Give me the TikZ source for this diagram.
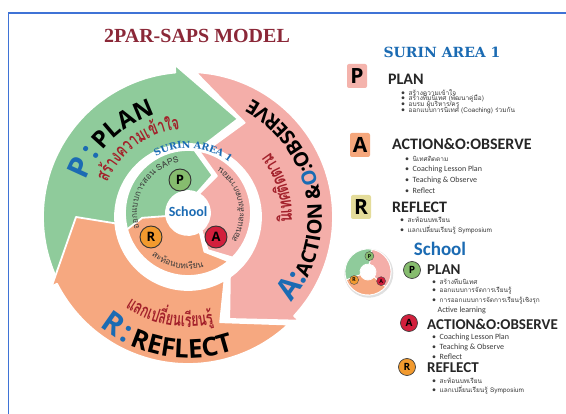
\documentclass[tikz,border=0pt]{standalone}
\usepackage{fontspec}
\setmainfont{Carlito}
\newfontfamily\thaif[Script=Thai]{Loma}
\newfontfamily\osans{Open Sans}
\newfontfamily\slabf{DejaVu Serif}
\newfontfamily\titlef{Liberation Serif}
\definecolor{grn}{HTML}{8FCB9B}
\definecolor{pnk}{HTML}{F4AEA9}
\definecolor{orn}{HTML}{F6A880}
\definecolor{blu}{HTML}{1B6BB3}
\definecolor{dred}{HTML}{A3212B}
\definecolor{ttl}{HTML}{8B2838}
\definecolor{frm}{HTML}{3F73D6}
\definecolor{pcirc}{HTML}{86BC6E}
\definecolor{acirc}{HTML}{D21F3C}
\definecolor{rcirc}{HTML}{F29A2E}
\definecolor{pbox}{HTML}{F4B3AC}
\definecolor{abox}{HTML}{F5A77C}
\definecolor{ybox}{HTML}{E4DC9A}
\definecolor{txt}{HTML}{3A3A3A}
\newcommand\RgBig{\osans\bfseries\fontsize{30}{30}\selectfont\color{blu}}
\newcommand\RgMid{\osans\bfseries\fontsize{20}{20}\selectfont\color{black}}
\newcommand\RgMidB{\osans\bfseries\fontsize{20}{20}\selectfont\color{blu}}
\newcommand\RgPlan{\osans\bfseries\fontsize{24}{24}\selectfont\color{black}}
\newcommand\RgRef{\osans\bfseries\fontsize{26}{26}\selectfont\color{black}}
\newcommand\SurinIn{\slabf\bfseries\fontsize{9.5}{9.5}\selectfont\color{blu}}
\newcommand\ThW{\thaif\bfseries\fontsize{19}{19}\selectfont\color{dred}}
\newcommand\ThS{\thaif\fontsize{8.5}{8.5}\selectfont\color{txt}}
\newcommand\thsz{\thaif\fontsize{6.5}{6.5}\selectfont}
\newcommand\bitem[1]{\textbullet\hspace{3.5pt}#1}
\newdimen\arcw
\newcount\arcn
\newbox\arcbox
% measure: #1 name, #2 font, #3 fallback width, #4 list
\newcommand\ArcPrep[4]{%
  \global\arcw=0pt
  \gdef\arcpairs{}%
  \foreach \ch in {#4}{%
    \setbox\arcbox=\hbox{#2\ch}%
    \ifdim\wd\arcbox<0.1pt \setbox\arcbox=\hbox{\kern#3}\fi
    \global\advance\arcw by \wd\arcbox
    \xdef\arcpairs{\unexpanded\expandafter{\arcpairs}\ifx\arcpairs\empty\else,\fi{\unexpanded\expandafter{\ch}}/\the\wd\arcbox}%
  }%
  \expandafter\xdef\csname arcT#1\endcsname{\the\arcw}%
  \expandafter\global\expandafter\let\csname arcL#1\endcsname\arcpairs
}
% draw: #1 name, #2 radius, #3 centre angle, #4 direction (1 ccw, -1 cw), #5 font, #6 x-scale
\newcommand\ArcDraw[6]{%
  \expandafter\let\expandafter\arclist\csname arcL#1\endcsname
  \edef\arctot{\csname arcT#1\endcsname}%
  \gdef\arccum{0pt}%
  \foreach \ch/\w in \arclist {%
    \pgfmathsetmacro\arcang{#3-(#4)*(#6)*\arctot/(#2)*28.64789+(#4)*(#6)*(\arccum+0.5*\w)/(#2)*57.29578}%
    \pgfmathsetmacro\arcrot{\arcang+(#4)*90}%
    \global\advance\arcn by 1
    \node[anchor=base, inner sep=0pt, font=#5, rotate=\arcrot, xscale=#6] (ac\the\arcn) at (\arcang:#2) {\ch};%
    \pgfmathsetlengthmacro\arcnew{\arccum+\w}%
    \global\let\arccum\arcnew
  }%
}
\begin{document}
\ArcPrep{plan}{\RgPlan}{16pt}{{\RgBig P},{\RgBig :\hspace{0.25em}},P,L,A,N}
\ArcPrep{act}{\RgMid}{13pt}{{\RgBig A},{\RgBig :},A,C,T,I,O,N,{\hspace{0.25em}\&},{\RgMidB O},:,O,B,S,E,R,V,E}
\ArcPrep{ref}{\RgRef}{17pt}{{\RgBig R},{\RgBig :\hspace{0.25em}},R,E,F,L,E,C,T}
\ArcPrep{tha}{\ThW}{11pt}{ส,ร้,า,ง,ค,ว,า,ม,เ,ข้,า,ใ,จ}
\ArcPrep{thb}{\ThW}{11pt}{นิ,เ,ท,ศ,ติ,ด,ต,า,ม}
\ArcPrep{thc}{\ThW}{11pt}{แ,ล,ก,เ,ป,ลี่,ย,น,เ,รี,ย,น,รู้}
\ArcPrep{sur}{\SurinIn}{7pt}{S,U,R,I,N,{\hspace{0.3em}A},R,E,A,{\hspace{0.3em}1}}
\ArcPrep{ia}{\ThS}{5pt}{อ,อ,ก,แ,บ,บ,ก,า,ร,ส,อ,น,{\hspace{0.3em}S},A,P,S}
\ArcPrep{ib}{\ThS}{5pt}{ส,อ,น,แ,ล,ะ,สั,ง,เ,ก,ต,ก,า,ร,ส,อ,น}
\ArcPrep{ic}{\ThS}{5pt}{ส,ะ,ท้,อ,น,บ,ท,เ,รี,ย,น}
\begin{tikzpicture}[x=1pt,y=1pt,
  seg/.style={draw=white, line width=1.8pt, line join=round},
  letc/.style={circle, draw=black!80, line width=0.9pt, minimum size=22pt, inner sep=0, font=\osans\bfseries\fontsize{13}{13}\selectfont},
  letcs/.style={circle, draw=black!75, line width=0.7pt, minimum size=17pt, inner sep=0, font=\osans\bfseries\fontsize{10}{10}\selectfont},
  minic/.style={circle, draw=black!70, line width=0.4pt, minimum size=9pt, inner sep=0, font=\bfseries\fontsize{6}{6}\selectfont},
  bul/.style={anchor=west, inner sep=0, font=\fontsize{8}{8}\selectfont, text=txt},
  hd/.style={anchor=west, inner sep=0, font=\bfseries\fontsize{16}{16}\selectfont, text=black!85},
  hds/.style={anchor=west, inner sep=0, font=\bfseries\fontsize{15}{15}\selectfont, text=black!85},
  lbox/.style={rounded corners=2pt, minimum width=20pt, minimum height=24pt, inner sep=0, font=\osans\bfseries\fontsize{21}{21}\selectfont}]
\useasboundingbox (0,0) rectangle (566,-414);
\fill[white] (0,0) rectangle (566,-414);
\draw[frm, line width=1.6pt] (8.5,-414) -- (8.5,-13) -- (566,-13);

\node[font=\titlef\bfseries\fontsize{20}{20}\selectfont, text=ttl] (title) at (197,-36) {2PAR-SAPS MODEL};

% ---------- outer ring ----------
\begin{scope}[shift={(188,-217)}]
\filldraw[fill=pnk, seg] (87:145) arc[start angle=87, end angle=-43, radius=145] -- (-43:152) -- (-68:110) -- (-55:73) arc[start angle=-55, end angle=72, radius=73] -- (59:110) -- cycle;
\filldraw[fill=grn, seg] (235:145) arc[start angle=235, end angle=95, radius=145] -- (95:153) -- (63:110) -- (78:73) arc[start angle=78, end angle=235, radius=73] -- cycle;
\filldraw[fill=orn, seg] (-47:147) arc[start angle=-47, end angle=-153, radius=147] -- (-153:153) -- (180:112) -- (-175:73) arc[start angle=-175, end angle=-60, radius=73] -- (-73:110) -- cycle;

\ArcDraw{plan}{108}{134}{-1}{\RgPlan}{1}
\ArcDraw{act}{134}{11}{1}{\RgMid}{1}
\ArcDraw{ref}{141}{260}{1}{\RgRef}{1}
\ArcDraw{tha}{88}{126}{-1}{\ThW}{0.68}
\ArcDraw{thb}{104}{17.5}{1}{\ThW}{0.72}
\ArcDraw{thc}{110}{259.5}{1}{\ThW}{0.66}
\end{scope}

% ---------- inner ring ----------
\begin{scope}[shift={(188,-213)}]
\filldraw[fill=pnk, seg] (80:63) arc[start angle=80, end angle=-45, radius=63] -- (-62:42) -- (-52:22) arc[start angle=-52, end angle=60, radius=22] -- (52:47) -- cycle;
\filldraw[fill=grn, seg] (225:63) arc[start angle=225, end angle=84, radius=63] -- (57:45) -- (66:22) arc[start angle=66, end angle=225, radius=22] -- cycle;
\filldraw[fill=orn, seg] (-50:63) arc[start angle=-50, end angle=-165, radius=63] -- (-174:46) -- (-172:22) arc[start angle=-172, end angle=-58, radius=22] -- (-67:42) -- cycle;

\ArcDraw{sur}{65}{85}{-1}{\SurinIn}{1}
\ArcDraw{ia}{51}{149}{-1}{\ThS}{1}
\ArcDraw{ib}{56}{11.5}{1}{\ThS}{1}
\ArcDraw{ic}{56}{258}{1}{\ThS}{1}

\node[font=\bfseries\fontsize{14}{14}\selectfont, text=blu] (school) at (0,1) {School};
\end{scope}

\node[letc, fill=pcirc] (cp) at (180,-180) {P};
\node[letc, fill=acirc] (ca) at (216,-237) {A};
\node[letc, fill=rcirc] (cr) at (151,-237) {R};

% ---------- legend: SURIN AREA 1 ----------
\node[font=\slabf\bfseries\fontsize{14}{14}\selectfont, text=blu] (sa) at (442,-52) {SURIN AREA 1};
\node[lbox, fill=pbox] (bp) at (357,-76) {P};
\node[hd] (hp) at (388,-79) {PLAN};
\node[bul] (p1) at (401,-93) {\bitem{\thsz สร้างความเข้าใจ}};
\node[bul] (p2) at (401,-99) {\bitem{\thsz สร้างทีมนิเทศ (พัฒนาคู่มือ)}};
\node[bul] (p3) at (401,-105) {\bitem{\thsz อบรม ผู้บริหาร/ครู}};
\node[bul] (p4) at (401,-111) {\bitem{\thsz ออกแบบการนิเทศ (Coaching) ร่วมกัน}};

\node[lbox, fill=abox] (ba) at (360,-145) {A};
\node[hd] (ha) at (392,-144) {ACTION\&O:OBSERVE};
\node[bul] (a1) at (405,-159) {\bitem{\thsz นิเทศติดตาม}};
\node[bul] (a2) at (405,-169.5) {\bitem{Coaching Lesson Plan}};
\node[bul] (a3) at (405,-180) {\bitem{Teaching \& Observe}};
\node[bul] (a4) at (405,-190.5) {\bitem{Reflect}};

\node[lbox, fill=ybox] (br) at (361,-207) {R};
\node[hd] (hr) at (392,-207) {REFLECT};
\node[bul] (r1) at (400,-220) {\bitem{\thsz สะท้อนบทเรียน}};
\node[bul] (r2) at (400,-230) {\bitem{\thsz แลกเปลี่ยนเรียนรู้ Symposium}};

% ---------- legend: School ----------
\node[font=\bfseries\fontsize{19}{19}\selectfont, text=blu] (sch) at (440,-249) {School};
\begin{scope}[shift={(368,-272)}]
\fill[black!12] (0.8,-1.2) circle (24.5);
\fill[white] (0,0) circle (23.5);
\filldraw[fill=pnk, draw=white, line width=0.8pt] (80:23) arc[start angle=80, end angle=-40, radius=23] -- (-40:8) arc[start angle=-40, end angle=80, radius=8] -- cycle;
\filldraw[fill=grn, draw=white, line width=0.8pt] (200:23) arc[start angle=200, end angle=80, radius=23] -- (80:8) arc[start angle=80, end angle=200, radius=8] -- cycle;
\filldraw[fill=orn, draw=white, line width=0.8pt] (-40:23) arc[start angle=-40, end angle=-160, radius=23] -- (-160:8) arc[start angle=-160, end angle=-40, radius=8] -- cycle;
\node[minic, fill=pcirc] (mp) at (85:16) {P};
\node[minic, fill=acirc] (ma) at (-35:16) {A};
\node[minic, fill=rcirc] (mr) at (210:16) {R};
\end{scope}

\node[letcs, fill=pcirc] (sp) at (412,-270) {P};
\node[hds] (shp) at (427,-270) {PLAN};
\node[bul] (s1) at (432,-282) {\bitem{\thsz สร้างทีมนิเทศ}};
\node[bul] (s2) at (432,-291) {\bitem{\thsz ออกแบบการจัดการเรียนรู้}};
\node[bul] (s3) at (432,-301) {\bitem{\thsz การออกแบบการจัดการเรียนรู้เชิงรุก}};
\node[bul] (s4) at (437.5,-310) {Active learning};

\node[letcs, fill=acirc] (sa2) at (409,-323) {A};
\node[hds] (sha) at (427,-324) {ACTION\&O:OBSERVE};
\node[bul] (s5) at (432,-337) {\bitem{Coaching Lesson Plan}};
\node[bul] (s6) at (432,-347) {\bitem{Teaching \& Observe}};
\node[bul] (s7) at (432,-357) {\bitem{Reflect}};

\node[letcs, fill=rcirc] (sr) at (407,-367) {R};
\node[hds] (shr) at (427,-368) {REFLECT};
\node[bul] (s8) at (432,-381) {\bitem{\thsz สะท้อนบทเรียน}};
\node[bul] (s9) at (432,-390) {\bitem{\thsz แลกเปลี่ยนเรียนรู้ Symposium}};
\end{tikzpicture}
\end{document}
